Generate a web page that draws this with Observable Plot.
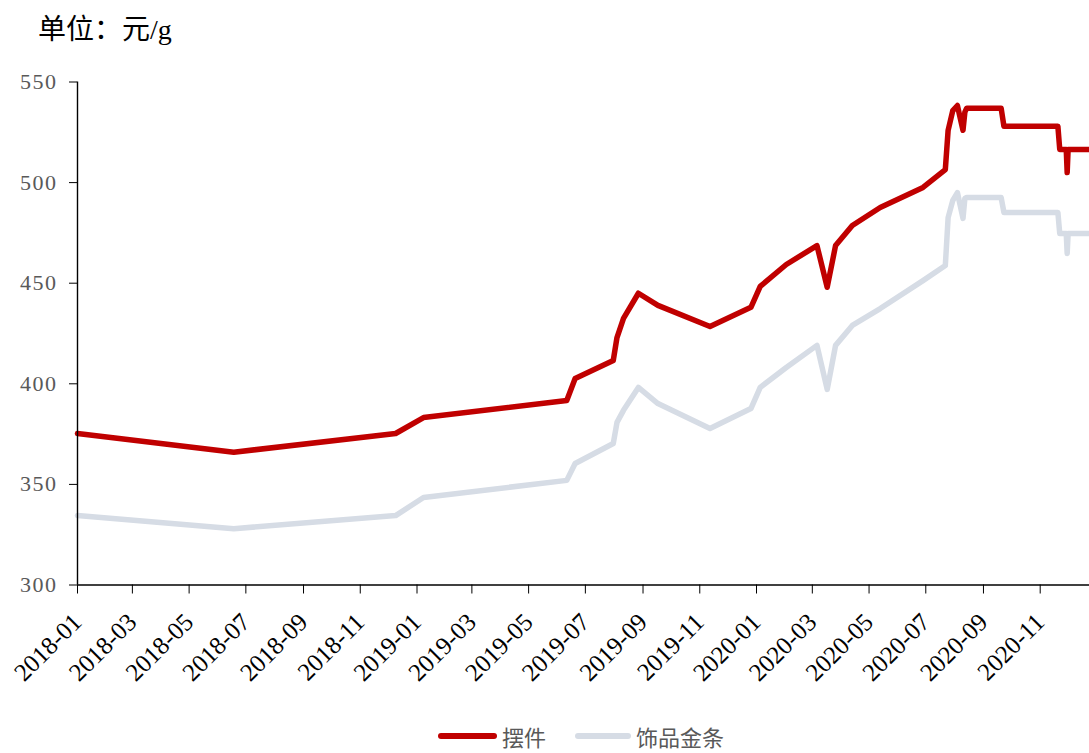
<!DOCTYPE html>
<html><head><meta charset="utf-8">
<script src="https://cdn.jsdelivr.net/npm/d3@7"></script>
<script src="https://cdn.jsdelivr.net/npm/@observablehq/plot@0.6"></script>
<style>
body{margin:0;background:#fff;}
#wrap{position:relative;width:1089px;height:753px;overflow:hidden;font-family:"Liberation Serif","Noto Sans CJK SC",serif;}
#title{position:absolute;left:38px;top:16px;font-size:28px;line-height:28px;color:#000;white-space:nowrap;}
#chart{position:absolute;left:0;top:60px;}
#legend{position:absolute;left:438px;top:724px;display:flex;align-items:center;font-family:"Noto Sans CJK SC",sans-serif;font-size:22px;color:#595959;line-height:24px;height:24px;white-space:nowrap;}
#legend span.t{display:inline-block;line-height:24px;height:24px;}
.sw{display:inline-block;height:6px;border-radius:3px;margin-right:5px;}
</style></head>
<body><div id="wrap">
<div id="title">单位：元/g</div>
<div id="chart"></div>
<div id="legend"><span class="sw" style="width:59px;background:#C00000"></span><span class="t" id="l1"></span><span class="sw" style="width:56px;background:#D6DCE5;margin-left:29px"></span><span class="t" id="l2"></span></div>
</div>
<script>
const seriesNames = ["摆件", "饰品金条"];
const seriesColors = ["#C00000", "#D6DCE5"];
const dates = ["2018-01-01","2018-06-18","2018-12-09","2019-01-08","2019-06-11","2019-06-20","2019-07-31","2019-08-04","2019-08-11","2019-08-27","2019-09-17","2019-11-12","2019-12-26","2020-01-05","2020-02-02","2020-03-06","2020-03-17","2020-03-26","2020-04-13","2020-05-13","2020-06-28","2020-07-22","2020-07-25","2020-07-30","2020-08-04","2020-08-10","2020-08-12","2020-08-14","2020-09-20","2020-09-23","2020-11-20","2020-11-22","2020-11-29","2020-11-30","2020-12-01","2020-12-24"];
const baijian = [375.3,366,375.3,383.2,391.7,402.6,411.6,423,432.5,445,439,428.5,438,448.4,459.3,468.7,448,468.7,478.7,487.6,497.6,506.5,526,535.8,538.3,526,535,537,537,528,528,516.5,516.5,505,516.5,516.5];
const shipin = [334.5,328,334.5,343.5,352,360.4,370.3,380.8,386.8,398.2,390.2,377.8,387.7,398.2,408.1,419.1,397.2,419.1,429,437.4,451.3,458.8,482.6,491.1,495,482.2,492.1,492.6,492.6,485.2,485.2,474.7,474.7,464.8,474.7,474.7];
const yTicks = [300, 350, 400, 450, 500, 550];
const xTicks = ["2018-01","2018-03","2018-05","2018-07","2018-09","2018-11","2019-01","2019-03","2019-05","2019-07","2019-09","2019-11","2020-01","2020-03","2020-05","2020-07","2020-09","2020-11"];
const xDomain = ["2018-01-01", "2020-12-24"];

document.getElementById("l1").textContent = seriesNames[0];
document.getElementById("l2").textContent = seriesNames[1];

const data = dates.flatMap((d, i) => [
  {date: new Date(d), value: shipin[i], series: seriesNames[1]},
  {date: new Date(d), value: baijian[i], series: seriesNames[0]}
]);

const chart = Plot.plot({
  width: 1089,
  height: 660,
  marginLeft: 77,
  marginRight: 0,
  marginTop: 21.5,
  marginBottom: 135.5,
  style: {background: "transparent", overflow: "visible", fontFamily: "Liberation Serif, serif", fontSize: "20px"},
  x: {type: "utc", domain: xDomain.map(d => new Date(d))},
  y: {domain: [yTicks[0], yTicks[yTicks.length - 1]]},
  color: {domain: seriesNames, range: seriesColors},
  marks: [
    Plot.axisY({ticks: yTicks, tickSize: 8, tickPadding: 12, label: null, stroke: "#000", fill: "#595959", fontSize: 22}),
    Plot.axisX({ticks: xTicks.map(d => new Date(d + "-01")), tickFormat: d3.utcFormat("%Y-%m"), tickSize: 9, tickPadding: 24, tickRotate: -45, label: null, stroke: "#000", fill: "#000", fontSize: 25}),
    Plot.lineY(data, {x: "date", y: "value", z: "series", stroke: "series", strokeWidth: 5.5, strokeLinejoin: "round", strokeLinecap: "round"}),
    Plot.ruleX([new Date(xDomain[0])], {stroke: "#000", strokeWidth: 1.4}),
    Plot.ruleY([yTicks[0]], {stroke: "#000", strokeWidth: 1.4})
  ]
});
chart.querySelectorAll("text").forEach(t => {
  const s = t.textContent.trim();
  if (/^\d{4}-\d{2}$/.test(s)) {
    t.style.setProperty("font-size", "25px", "important");
    t.style.setProperty("font-family", "Liberation Serif, serif", "important");
    t.style.setProperty("fill", "#000", "important");
  } else if (/^\d{3}$/.test(s)) {
    t.style.setProperty("font-size", "22px", "important");
    t.style.setProperty("font-family", "Liberation Serif, serif", "important");
    t.style.setProperty("letter-spacing", "1.5px", "important");
    t.style.setProperty("fill", "#595959", "important");
  }
});
document.getElementById("chart").appendChild(chart);
</script>
</body></html>
